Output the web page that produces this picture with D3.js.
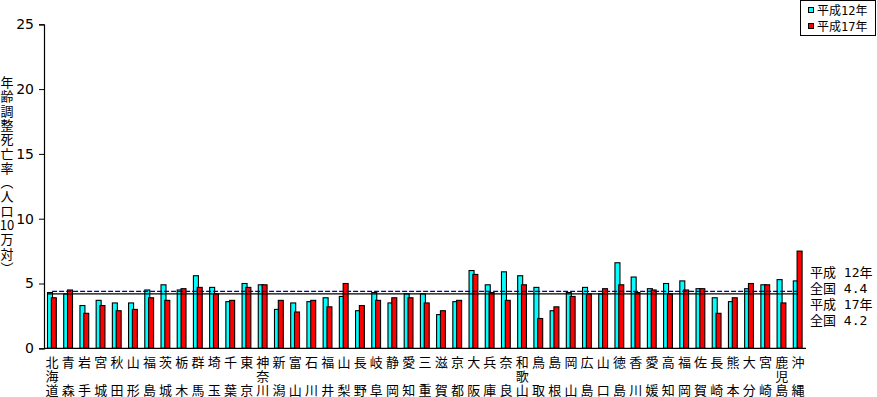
<!DOCTYPE html>
<html>
<head>
<meta charset="utf-8">
<script src="https://cdn.jsdelivr.net/npm/d3@7"></script>
<style>
  body { margin: 0; background: #fff; }
  text { font-family: "Noto Sans CJK JP", "DejaVu Sans", sans-serif; }
</style>
</head>
<body>
<script>
var prefs = ['北海道','青森','岩手','宮城','秋田','山形','福島','茨城','栃木','群馬','埼玉','千葉',
  '東京','神奈川','新潟','富山','石川','福井','山梨','長野','岐阜','静岡','愛知','三重','滋賀','京都',
  '大阪','兵庫','奈良','和歌山','鳥取','島根','岡山','広島','山口','徳島','香川','愛媛','高知','福岡',
  '佐賀','長崎','熊本','大分','宮崎','鹿児島','沖縄'];
var h12 = [4.3,4.2,3.3,3.7,3.5,3.5,4.5,4.9,4.5,5.6,4.7,3.6,5.0,4.9,3.0,3.5,3.6,3.9,4.0,2.9,4.3,3.5,
  4.2,4.2,2.6,3.6,6.0,4.9,5.9,5.6,4.7,2.9,4.3,4.7,4.2,6.6,5.5,4.6,5.0,5.2,4.6,3.9,3.6,4.6,4.9,5.3,5.2];
var h17 = [3.9,4.5,2.7,3.3,2.9,3.0,3.9,3.7,4.6,4.7,4.2,3.7,4.7,4.9,3.7,2.8,3.7,3.2,5.0,3.3,3.7,3.9,
  3.9,3.5,2.9,3.7,5.7,4.3,3.7,4.9,2.3,3.2,4.0,4.2,4.6,4.9,4.3,4.5,4.2,4.5,4.6,2.7,3.9,5.0,4.9,3.5,7.5];
var series = ['平成12年','平成17年'];
var national = [4.4, 4.2];
var yTicks = [0,5,10,15,20,25];
var yTitle = ['年','齢','調','整','死','亡','率','︵','人','口','10','万','対','︶'];

var width = 877, height = 397,
  colors = ['#00ffff', '#ff0000'],
  mono = '"DejaVu Sans Mono", "Noto Sans CJK JP", monospace',
  x = d3.scaleBand().domain(prefs).range([44, 806]),
  sub = d3.scaleOrdinal().domain(series).range([-4.6, -0.8]),
  y = d3.scaleLinear().domain([0, 25]).range([348.3, 24.3]),
  svg = d3.select('body').append('svg')
    .attr('width', width).attr('height', height);

var data = prefs.map(function(p, i) {
  return { name: p, values: [h12[i], h17[i]] };
});

// bars
var g = svg.selectAll('.grp').data(data).enter().append('g').attr('class', 'grp');
g.selectAll('rect')
  .data(function(d) { return d.values.map(function(v, j) { return { p: d.name, s: series[j], v: v, j: j }; }); })
  .enter().append('rect')
  .attr('x', function(d) { return x(d.p) + x.bandwidth() / 2 + sub(d.s); })
  .attr('width', 5)
  .attr('y', function(d) { return y(d.v); })
  .attr('height', function(d) { return y(0) - y(d.v); })
  .attr('fill', function(d) { return colors[d.j]; })
  .attr('stroke', '#000').attr('stroke-width', 1.1);

// national average lines
var c0 = x(prefs[0]) + x.bandwidth() / 2, c1 = x(prefs[prefs.length - 1]) + x.bandwidth() / 2;
svg.append('line').attr('x1', c0).attr('x2', c1)
  .attr('y1', y(national[0])).attr('y2', y(national[0]))
  .attr('stroke', '#000099').attr('stroke-width', 1.3).attr('stroke-dasharray', '5,2');
svg.append('line').attr('x1', c0 - 5).attr('x2', c1)
  .attr('y1', y(national[1])).attr('y2', y(national[1]))
  .attr('stroke', '#000').attr('stroke-width', 1.3);

// axes
svg.append('g').attr('transform', 'translate(44,0)')
  .call(d3.axisLeft(y).tickValues(yTicks).tickSize(5).tickPadding(5))
  .call(function(a) {
    a.select('.domain').attr('stroke-width', 1.2);
    a.selectAll('text').attr('font-size', 14).attr('fill', '#000')
      .style('font-family', '"DejaVu Sans", sans-serif');
  });
svg.append('line').attr('x1', 44).attr('x2', 806)
  .attr('y1', y(0)).attr('y2', y(0)).attr('stroke', '#000').attr('stroke-width', 1.2);

// category labels
svg.selectAll('.xl').data(prefs).enter().append('g').attr('class', 'xl')
  .each(function(p) {
    var chars = p.split(''), rows = chars.length === 2 ? [0, 2] : [0, 1, 2];
    d3.select(this).selectAll('text').data(chars).enter().append('text')
      .attr('x', x(p) + x.bandwidth() / 2)
      .attr('y', function(c, k) { return 367 + rows[k] * 14; })
      .attr('text-anchor', 'middle').attr('font-size', 13).text(function(c) { return c; });
  });

// y title
svg.selectAll('.yt').data(yTitle).enter().append('text')
  .attr('x', 7).attr('y', function(c, i) { return 87 + i * 14.3; })
  .attr('text-anchor', 'middle').attr('font-size', 13).text(function(c) { return c; });

// legend
var lg = svg.append('g');
lg.append('rect').attr('x', 800.5).attr('y', 0.5).attr('width', 75).attr('height', 35)
  .attr('fill', '#fff').attr('stroke', '#000');
series.forEach(function(s, i) {
  lg.append('rect').attr('x', 808.5).attr('y', 7.5 + i * 16).attr('width', 5).attr('height', 5)
    .attr('fill', colors[i]).attr('stroke', '#000');
  lg.append('text').attr('x', 817).attr('y', 15 + i * 16).attr('font-size', 12)
    .style('font-family', mono).text(s);
});

// national average notes
var notes = ['平成 12年', '全国 4.4', '平成 17年', '全国 4.2'];
svg.selectAll('.note').data(notes).enter().append('text')
  .attr('x', 810).attr('y', function(d, i) { return 277 + i * 16; })
  .attr('font-size', 13).style('font-family', mono).style('white-space', 'pre')
  .text(function(d) { return d; });
</script>
</body>
</html>
